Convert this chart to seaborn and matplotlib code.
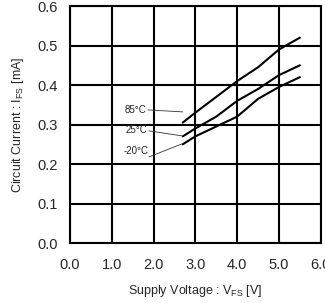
import pandas as pd
import matplotlib
matplotlib.use('Agg')
import matplotlib.pyplot as plt
import seaborn as sns

# Data
voltage = [2.7, 3.0, 3.5, 4.0, 4.5, 5.0, 5.5]
i_85 = [0.305, 0.33, 0.37, 0.41, 0.445, 0.49, 0.52]
i_25 = [0.27, 0.29, 0.32, 0.36, 0.39, 0.425, 0.45]
i_m20 = [0.25, 0.27, 0.295, 0.32, 0.365, 0.395, 0.42]
temps = ['85°C', '25°C', '-20°C']
x_ticks = [0.0, 1.0, 2.0, 3.0, 4.0, 5.0, 6.0]
y_ticks = [0.0, 0.1, 0.2, 0.3, 0.4, 0.5, 0.6]

# label positions and leader-line ends (data coords)
label_xy = [(1.58, 0.337), (1.58, 0.286), (1.58, 0.233)]
leader_start = [(1.87, 0.337), (1.89, 0.284), (1.89, 0.218)]
leader_end = [(2.70, 0.332), (2.70, 0.271), (2.68, 0.251)]

df = pd.DataFrame({
    'V': voltage * 3,
    'I': i_85 + i_25 + i_m20,
    'T': [t for t in temps for _ in voltage],
})

sns.set_style('white')
plt.rcParams['font.family'] = ['Liberation Sans', 'DejaVu Sans']
plt.rcParams['mathtext.fontset'] = 'custom'
plt.rcParams['mathtext.rm'] = 'Liberation Sans'

fig, ax = plt.subplots(figsize=(3.25, 3.03), dpi=100)
fig.subplots_adjust(left=0.215, right=0.987, top=0.98, bottom=0.198)

sns.lineplot(data=df, x='V', y='I', hue='T', palette=['black'] * 3,
             linewidth=1.5, legend=False, ax=ax)

for t, (lx, ly), s, e in zip(temps, label_xy, leader_start, leader_end):
    ax.text(lx, ly, t, fontsize=7, ha='center', va='center', color='#222222')
    ax.plot([s[0], e[0]], [s[1], e[1]], color='#333333', linewidth=0.6)

ax.set_xlim(0, 6)
ax.set_ylim(0, 0.6)
ax.set_xticks(x_ticks)
ax.set_yticks(y_ticks)
ax.set_xticklabels([f'{v:.1f}' for v in x_ticks], fontsize=10.5)
ax.set_yticklabels([f'{v:.1f}' for v in y_ticks], fontsize=10.5)
ax.grid(True, color='black', linewidth=1.5)
ax.set_axisbelow(True)
for sp in ax.spines.values():
    sp.set_color('black')
    sp.set_linewidth(1.5)
ax.tick_params(length=0, pad=11)
ax.tick_params(axis='y', pad=9)
ax.set_xlabel(r'Supply Voltage : V$_{\mathregular{FS}}$ [V]', fontsize=9, labelpad=8)
ax.set_ylabel(r'Circuit Current : I$_{\mathregular{FS}}$ [mA]', fontsize=9, labelpad=8)

plt.savefig('out.png', dpi=100)
